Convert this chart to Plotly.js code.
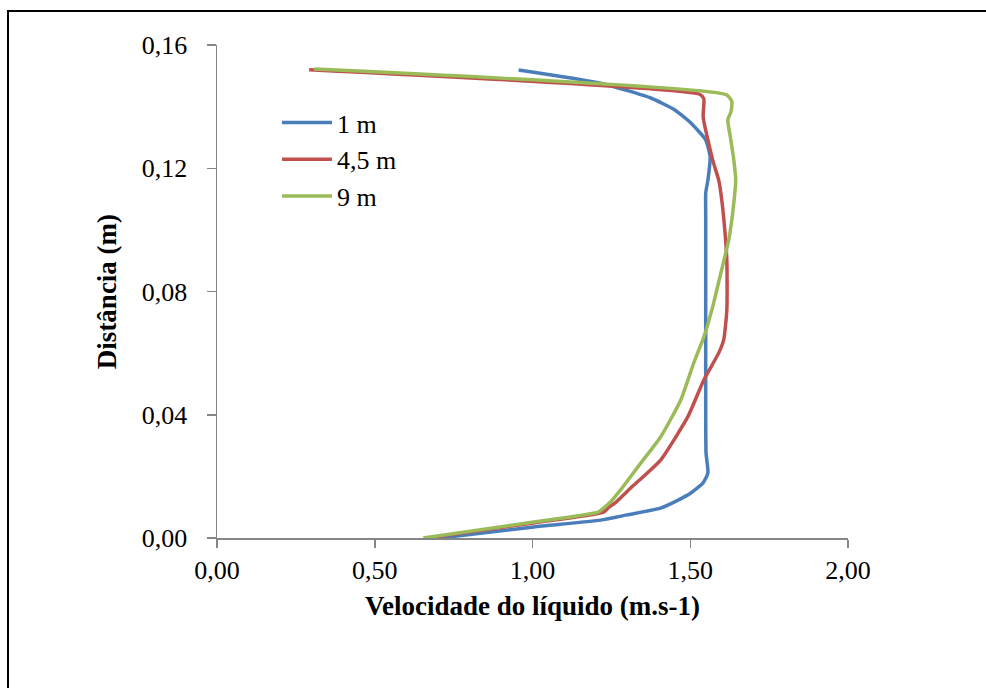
<!DOCTYPE html>
<html>
<head>
<meta charset="utf-8">
<script src="https://cdn.plot.ly/plotly-3.0.1.min.js"></script>
<style>
  html, body { margin: 0; padding: 0; background: #ffffff; }
  #chart { width: 986px; height: 688px; }
</style>
</head>
<body>
<div id="chart"></div>
<script>
// Velocity profiles of the liquid at three positions along the channel
const seriesNames = ['1 m', '4,5 m', '9 m'];
const seriesColors = ['#4A7EBB', '#C0504D', '#9BBB59'];

// 1 m
const dist1 = [0, 0.0036, 0.0058, 0.0075, 0.0097, 0.0122, 0.0146, 0.0178, 0.0211, 0.0276, 0.045, 0.060, 0.075, 0.090, 0.105, 0.112, 0.1162, 0.1237, 0.1292, 0.1347, 0.1390, 0.1428, 0.1476, 0.1519];
const vel1  = [0.708, 1.004, 1.216, 1.300, 1.406, 1.460, 1.502, 1.540, 1.556, 1.550, 1.549, 1.549, 1.549, 1.549, 1.549, 1.549, 1.556, 1.563, 1.549, 1.502, 1.450, 1.375, 1.216, 0.956];

// 4,5 m
const dist2 = [0, 0.0049, 0.0084, 0.0100, 0.0114, 0.0162, 0.0253, 0.0393, 0.0513, 0.0600, 0.0643, 0.0740, 0.0900, 0.1040, 0.1120, 0.1162, 0.1227, 0.1366, 0.1425, 0.1440, 0.1520];
const vel2  = [0.667, 1.004, 1.225, 1.242, 1.262, 1.311, 1.406, 1.492, 1.543, 1.590, 1.606, 1.616, 1.616, 1.606, 1.597, 1.590, 1.571, 1.541, 1.543, 1.530, 0.292];

// 9 m
const dist3 = [0, 0.0052, 0.0084, 0.0101, 0.0120, 0.0156, 0.0243, 0.0328, 0.0448, 0.0568, 0.0652, 0.0750, 0.0860, 0.0967, 0.1087, 0.1162, 0.1227, 0.1290, 0.1357, 0.1383, 0.1416, 0.1438, 0.1522];
const vel3  = [0.654, 1.004, 1.208, 1.230, 1.250, 1.279, 1.343, 1.406, 1.470, 1.511, 1.543, 1.571, 1.597, 1.622, 1.638, 1.644, 1.638, 1.629, 1.619, 1.629, 1.632, 1.616, 0.308];

const xTickVals = [0, 0.5, 1.0, 1.5, 2.0];
const xTickText = ['0,00', '0,50', '1,00', '1,50', '2,00'];
const yTickVals = [0, 0.04, 0.08, 0.12, 0.16];
const yTickText = ['0,00', '0,04', '0,08', '0,12', '0,16'];

const profiles = [[vel1, dist1], [vel2, dist2], [vel3, dist3]];

const traces = profiles.map((p, i) => ({
  type: 'scatter',
  mode: 'lines',
  x: p[0],
  y: p[1],
  name: seriesNames[i],
  line: { color: seriesColors[i], width: 3.5, shape: 'spline', smoothing: 0.5 }
}));

const serif = '"Liberation Serif", "Times New Roman", serif';

// plot area spans x 217..848 and y 45..538 in page pixels
const L = 217, R = 848, T = 45, B = 538;
const px = v => (v - L) / (R - L);
const py = v => (B - v) / (B - T);

const layout = {
  width: 986,
  height: 688,
  margin: { l: L, r: 986 - R, t: T, b: 688 - B, pad: 0 },
  paper_bgcolor: '#ffffff',
  plot_bgcolor: '#ffffff',
  showlegend: true,
  font: { family: serif, color: '#000000', size: 26 },
  xaxis: {
    range: [0, 2],
    tickvals: xTickVals,
    ticktext: xTickText,
    showgrid: false,
    zeroline: false,
    showline: true,
    linecolor: '#868686',
    linewidth: 1.5,
    ticks: 'outside',
    ticklen: 8,
    tickcolor: '#868686',
    tickwidth: 1.5,
    tickfont: { family: serif, size: 26, color: '#000000' },
    title: { text: '<b>Velocidade do líquido (m.s-1)</b>', font: { family: serif, size: 27, color: '#000000' }, standoff: 12 }
  },
  yaxis: {
    range: [0, 0.16],
    tickvals: yTickVals,
    ticktext: yTickText,
    showgrid: false,
    zeroline: false,
    showline: true,
    linecolor: '#868686',
    linewidth: 1.5,
    ticks: 'outside',
    ticklen: 9,
    tickcolor: '#868686',
    tickwidth: 1.5,
    ticklabelstandoff: 14,
    tickfont: { family: serif, size: 26, color: '#000000' },
    title: { text: '<b>Distância (m)</b>', font: { family: serif, size: 27, color: '#000000' }, standoff: 17 }
  },
  legend: {
    x: px(277),
    y: py(99),
    xanchor: 'left',
    yanchor: 'top',
    bgcolor: 'rgba(0,0,0,0)',
    font: { family: serif, size: 26, color: '#000000' },
    tracegroupgap: 0,
    itemwidth: 50
  },
  shapes: [{
    type: 'rect',
    xref: 'paper',
    yref: 'paper',
    x0: px(8),
    x1: px(1000),
    y0: py(700),
    y1: py(11),
    line: { color: '#000000', width: 2 },
    fillcolor: 'rgba(0,0,0,0)',
    layer: 'below'
  }]
};

Plotly.newPlot('chart', traces, layout, { staticPlot: true, displayModeBar: false });
</script>
</body>
</html>
